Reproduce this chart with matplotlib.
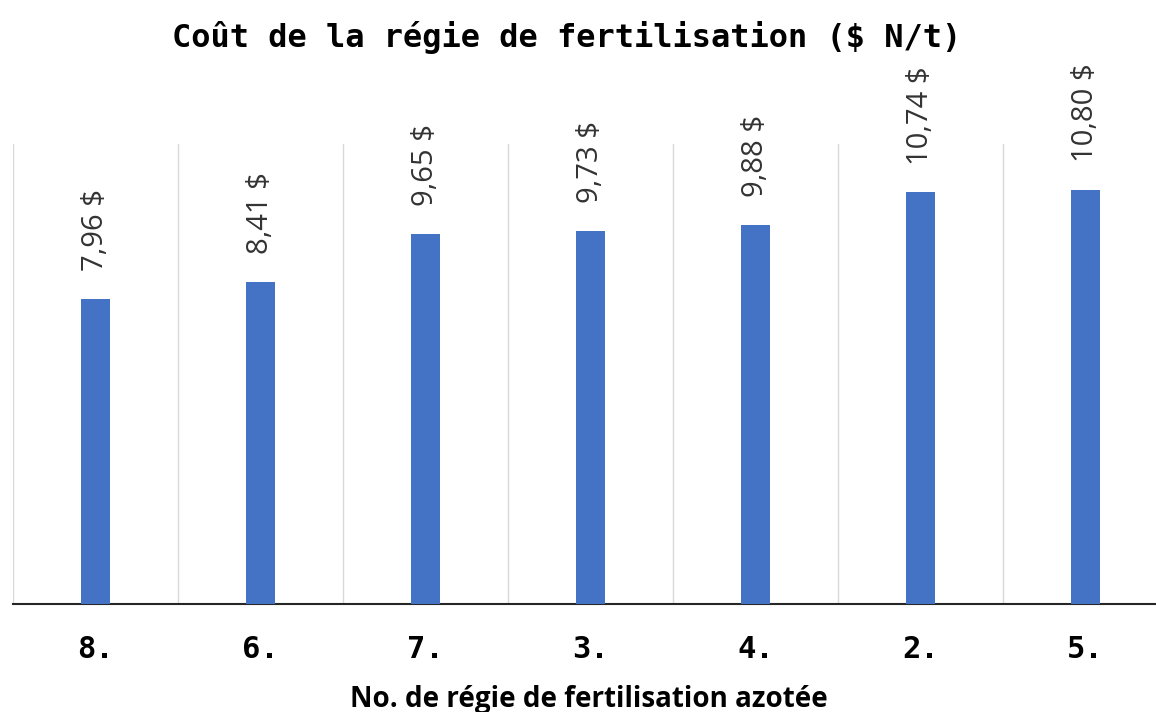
import matplotlib
matplotlib.use("Agg")
import matplotlib.pyplot as plt

categories = ["8.", "6.", "7.", "3.", "4.", "2.", "5."]
values = [7.96, 8.41, 9.65, 9.73, 9.88, 10.74, 10.80]
labels = ["7,96 $", "8,41 $", "9,65 $", "9,73 $", "9,88 $", "10,74 $", "10,80 $"]

W, H = 1156, 712
fig = plt.figure(figsize=(W / 100, H / 100), dpi=100)
ax = fig.add_axes([13 / W, 1 - 604 / H, 1155 / W, 460 / H])

x = list(range(len(categories)))
ax.bar(x, values, width=0.18, color="#4472C4", zorder=3)
ax.set_xlim(-0.5, len(categories) - 0.5)
ax.set_ylim(0, 12)

# vertical separators between categories
for b in [i - 0.5 for i in range(len(categories) + 1)]:
    ax.axvline(b, color="#D9D9D9", lw=1, zorder=1)

for xi, v, lab in zip(x, values, labels):
    ax.annotate(lab, (xi, v), xytext=(0, 20), textcoords="offset points",
                rotation=90, ha="center", va="bottom", fontsize=21,
                family="Open Sans", color="#333333", clip_on=False)

for s in ["top", "right", "left"]:
    ax.spines[s].set_visible(False)
ax.spines["bottom"].set_color("#262626")
ax.spines["bottom"].set_linewidth(1.5)
ax.set_yticks([])
ax.set_xticks(x)
ax.set_xticklabels(categories, fontsize=22, fontweight="bold", family="DejaVu Sans Mono")
ax.tick_params(axis="x", length=0, pad=22)

fig.text(589 / W, 1 - 707 / H, "No. de régie de fertilisation azotée",
         ha="center", va="baseline", fontsize=20, fontweight="bold", family="Open Sans")
fig.text(567 / W, 1 - 38 / H, "Coût de la régie de fertilisation ($ N/t)",
         ha="center", va="center", fontsize=23, fontweight="bold", family="DejaVu Sans Mono")

fig.savefig("out.png", dpi=100)
